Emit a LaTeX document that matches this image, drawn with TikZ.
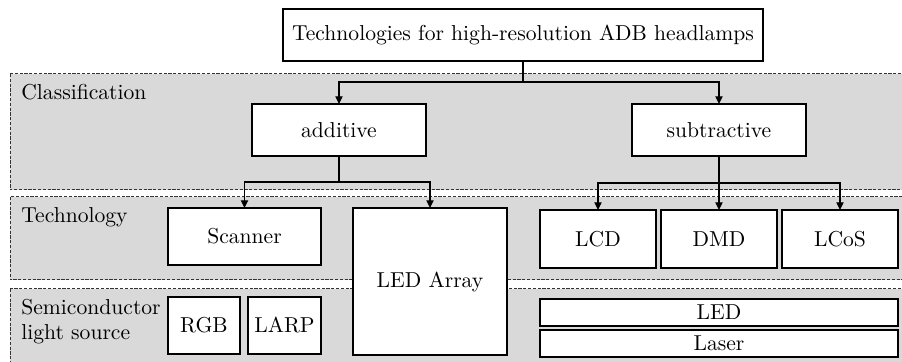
\documentclass[tikz,border=0pt]{standalone}
\usetikzlibrary{arrows.meta}
\begin{document}
\begin{tikzpicture}[x=0.5pt,y=-0.5pt, font=\fontsize{10.8}{13}\selectfont,
  band/.style={draw=black!80, fill=black!15, dash pattern=on 1.6pt off 0.8pt, line width=0.5pt},
  box/.style={draw, fill=white, line width=0.6pt, inner sep=0pt, outer sep=0pt, align=center},
  lbl/.style={inner sep=0pt, anchor=base west, align=left},
  arr/.style={line width=0.6pt, -{Triangle[length=3.8pt,width=3.6pt]}},
  ln/.style={line width=0.6pt}]
\clip (0,0) rectangle (902,362);
% bands
\draw[band] (10,74) rectangle (930,190);
\draw[band] (10,197) rectangle (930,280);
\draw[band] (10,289) rectangle (930,400);
\node[lbl] (lc) at (21,100) {Classification};
\node[lbl] (lt) at (21,223) {Technology};
\node[lbl] (ls) at (21,315) {Semiconductor};
\node[lbl] (ls2) at (21,340) {light source};
% nodes
\node[box, minimum width=240pt, minimum height=26pt] (top) at (523,35) {Technologies for high-resolution ADB headlamps};
\node[box, minimum width=87pt, minimum height=26pt] (add) at (339,130) {additive};
\node[box, minimum width=87pt, minimum height=26pt] (sub) at (719,130) {subtractive};
\node[box, minimum width=76.5pt, minimum height=28.5pt] (scan) at (244.5,236.5) {Scanner};
\node[box, minimum width=77pt, minimum height=73.5pt] (leda) at (430,281.5) {LED Array};
\node[box, minimum width=36pt, minimum height=28.5pt] (rgb) at (204,325.5) {RGB};
\node[box, minimum width=36.5pt, minimum height=28.5pt] (larp) at (284.5,325.5) {LARP};
\node[box, minimum width=58pt, minimum height=29pt] (lcd) at (598,239) {LCD};
\node[box, minimum width=58pt, minimum height=29pt] (dmd) at (719,239) {DMD};
\node[box, minimum width=58pt, minimum height=29pt] (lcos) at (840,239) {LCoS};
\node[box, minimum width=179pt, minimum height=13.5pt] (led) at (719,312.5) {LED};
\node[box, minimum width=179pt, minimum height=13.5pt] (laser) at (719,343.5) {Laser};
% connectors
\coordinate (j1) at (523,82);
\coordinate (j2) at (339,182);
\coordinate (j3) at (719,183);
\draw[ln] (top.south) -- (j1);
\draw[arr] (j1) -| (add.north);
\draw[arr] (j1) -| (sub.north);
\draw[ln] (add.south) -- (j2);
\draw[arr] (j2) -| (scan.north);
\draw[arr] (j2) -| (leda.north);
\draw[ln] (sub.south) -- (j3);
\draw[arr] (j3) -| (lcd.north);
\draw[arr] (j3) -- (dmd.north);
\draw[arr] (j3) -| (lcos.north);
\end{tikzpicture}
\end{document}
